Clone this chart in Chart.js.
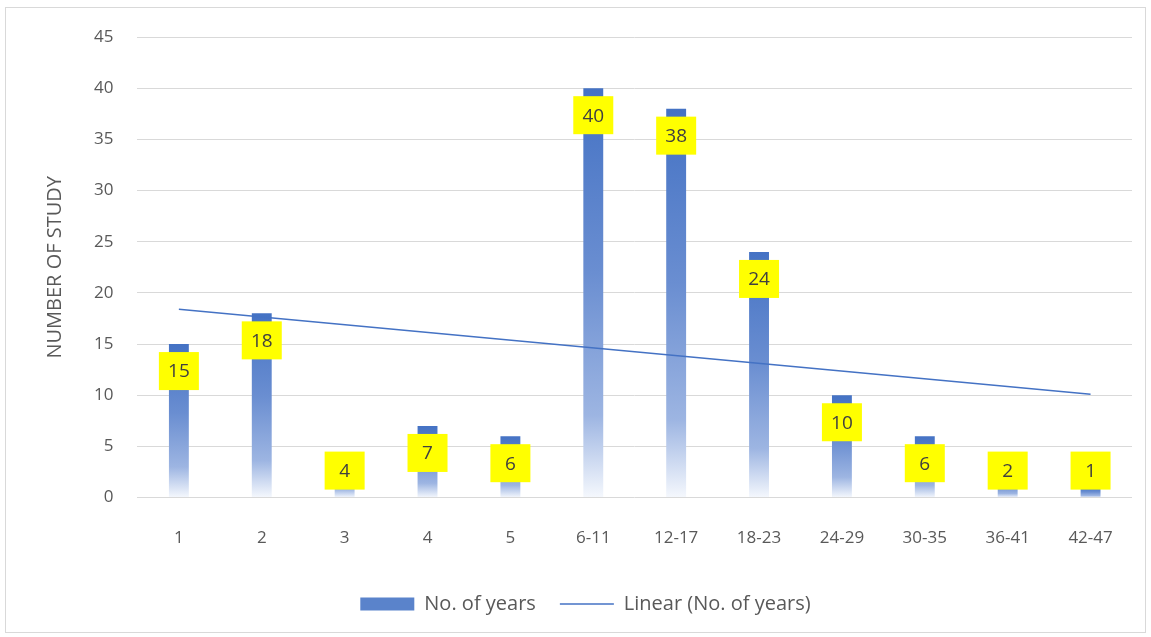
<!DOCTYPE html>
<html>
<head>
<meta charset="utf-8">
<script src="https://cdn.jsdelivr.net/npm/chart.js@4"></script>
<style>
  html, body { margin: 0; padding: 0; background: #fff; }
  #frame {
    position: absolute; left: 5px; top: 7px; width: 1141px; height: 626px;
    border: 1px solid #d9d9d9; box-sizing: border-box;
  }
  #wrap { position: absolute; left: 0; top: 0; width: 1151px; height: 637px; }
</style>
</head>
<body>
<div id="frame"></div>
<div id="wrap"><canvas id="studyChart"></canvas></div>
<script>
const categories = ['1', '2', '3', '4', '5', '6-11', '12-17', '18-23', '24-29', '30-35', '36-41', '42-47'];
const yearCounts = [15, 18, 4, 7, 6, 40, 38, 24, 10, 6, 2, 1];
// trendline endpoints
const trendValues = [18.4, null, null, null, null, null, null, null, null, null, null, 10.1];
const yTicks = [0, 5, 10, 15, 20, 25, 30, 35, 40, 45];

const FONT = '"Open Sans", "Noto Sans", sans-serif';
const BLUE = '#4472c4';
const TEXT = '#595959';

function barGradient(context) {
    const chart = context.chart;
    if (!chart.chartArea) return BLUE;
    const y = chart.scales.y;
    const top = y.getPixelForValue(context.raw);
    const bottom = y.getPixelForValue(0);
    if (bottom - top < 1) return BLUE;
    const g = chart.ctx.createLinearGradient(0, top, 0, bottom);
    g.addColorStop(0, '#4472c4');
    g.addColorStop(0.45, '#6a8ed1');
    g.addColorStop(0.8, '#9db5e2');
    g.addColorStop(1, '#f5f8fd');
    return g;
}

const valueLabels = {
    id: 'valueLabels',
    afterDatasetsDraw(chart) {
        const ctx = chart.ctx;
        const meta = chart.getDatasetMeta(0);
        const y = chart.scales.y;
        const base = y.getPixelForValue(0);
        ctx.save();
        ctx.font = '19px ' + FONT;
        ctx.textAlign = 'center';
        ctx.textBaseline = 'middle';
        meta.data.forEach((bar, i) => {
            const cy = Math.min(bar.y + 27, base - 27);
            ctx.fillStyle = '#ffff00';
            ctx.fillRect(bar.x - 20, cy - 19, 40, 38);
            ctx.fillStyle = '#404040';
            ctx.fillText(String(yearCounts[i]), bar.x, cy + 1);
        });
        ctx.restore();
    }
};

function setupStudyChart() {
    const ctx = document.getElementById('studyChart').getContext('2d');
    new Chart(ctx, {
        type: 'bar',
        data: {
            labels: categories,
            datasets: [{
                type: 'bar',
                label: 'No. of years',
                data: yearCounts,
                backgroundColor: barGradient,
                barPercentage: 0.24,
                categoryPercentage: 1,
                order: 2
            }, {
                type: 'line',
                label: 'Linear (No. of years)',
                data: trendValues,
                borderColor: BLUE,
                borderWidth: 1.5,
                pointRadius: 0,
                spanGaps: true,
                fill: false,
                order: 1
            }]
        },
        options: {
            responsive: true,
            maintainAspectRatio: false,
            animation: false,
            layout: { padding: { left: 39, right: 19, top: 37, bottom: 13 } },
            scales: {
                x: {
                    grid: { display: false },
                    border: { display: false },
                    ticks: { color: TEXT, font: { family: FONT, size: 17 }, padding: 22 }
                },
                y: {
                    min: 0,
                    max: 45,
                    afterBuildTicks: (axis) => { axis.ticks = yTicks.map(v => ({ value: v })); },
                    grid: { color: '#d9d9d9', lineWidth: 1, drawTicks: false },
                    border: { display: false },
                    ticks: { color: TEXT, font: { family: FONT, size: 17 }, padding: 24 },
                    title: {
                        display: true,
                        text: 'NUMBER OF STUDY',
                        color: TEXT,
                        font: { family: FONT, size: 20 },
                        padding: { bottom: 3 }
                    }
                }
            },
            plugins: {
                tooltip: { enabled: false },
                legend: {
                    position: 'bottom',
                    labels: {
                        color: TEXT,
                        font: { family: FONT, size: 20 },
                        usePointStyle: true,
                        pointStyleWidth: 54,
                        boxHeight: 13,
                        padding: 24,
                        generateLabels: (chart) => chart.data.datasets.map((ds, i) => ({
                            text: ds.label,
                            fillStyle: i === 0 ? '#5a83cb' : 'transparent',
                            strokeStyle: BLUE,
                            lineWidth: i === 0 ? 0 : 1.5,
                            pointStyle: i === 0 ? 'rect' : 'line',
                            fontColor: TEXT,
                            datasetIndex: i
                        }))
                    }
                }
            }
        },
        plugins: [valueLabels]
    });
}

setupStudyChart();
</script>
</body>
</html>
